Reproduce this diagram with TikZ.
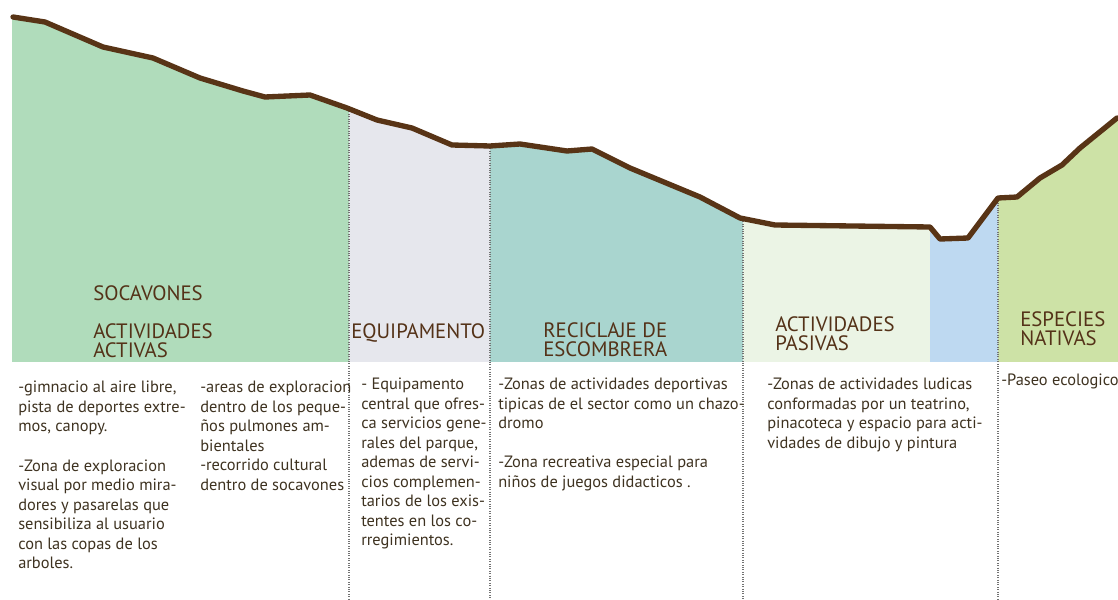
\documentclass[tikz,border=0pt]{standalone}
\usepackage{fontspec}
\setmainfont{PT Sans}
\usepackage{xcolor}
\definecolor{groundbrown}{RGB}{88,52,22}
\definecolor{labelbrown}{RGB}{84,50,24}
\definecolor{textbrown}{RGB}{62,50,32}
\definecolor{socgreen}{RGB}{176,220,187}
\definecolor{equipgray}{RGB}{230,231,237}
\definecolor{recteal}{RGB}{169,213,207}
\definecolor{pasgreen}{RGB}{235,244,229}
\definecolor{waterblue}{RGB}{190,217,241}
\definecolor{natgreen}{RGB}{205,226,166}

% terrain profile (pixel coordinates of the section)
\newcommand{\groundpts}{(13,17) -- (45,22) -- (103,47) -- (153,58) -- (200,78)
  -- (243,91) -- (265,97) -- (310,95) -- (347,108) -- (377,120) -- (412,128)
  -- (452,145) -- (490,146) -- (520,144) -- (567,151) -- (592,149) -- (630,168)
  -- (700,197) -- (740,218) -- (775,225) -- (930,227) -- (940,239) -- (968,238)
  -- (998,198) -- (1017,197) -- (1040,178) -- (1062,165) -- (1080,148) -- (1117,118)}

\begin{document}
\begin{tikzpicture}[
    x=0.75pt, y=-0.75pt,
    every node/.style={inner sep=0pt, anchor=north west},
    zonelabel/.style={font=\fontsize{15.6}{14.6}\selectfont, text=labelbrown, align=left},
    zonetext/.style={font=\fontsize{12.3}{14.6}\selectfont, text=textbrown, align=left},
    divider/.style={black!55, densely dotted, line width=0.8pt},
    ground/.style={groundbrown, line width=4pt, line join=round, line cap=round}
]
\useasboundingbox (0,0) rectangle (1118,600);

% Zones under the terrain
\begin{scope}
\clip \groundpts -- (1118,118) -- (1118,362) -- (12,362) -- (12,20) -- cycle;
\fill[socgreen]  (12,0)  rectangle (349,362);
\fill[equipgray] (349,0) rectangle (490,362);
\fill[recteal]   (490,0) rectangle (743,362);
\fill[pasgreen]  (743,0) rectangle (930,362);
\fill[waterblue] (930,0) rectangle (998,362);
\fill[natgreen]  (998,0) rectangle (1118,362);
\end{scope}

% Dotted limits between zones
\foreach \x/\y in {349/109, 490/146, 743/219, 998/198}
    \draw[divider] (\x,\y) -- (\x,600);

% Terrain line
\draw[ground] \groundpts;

% Zone names
\node[zonelabel] (socavones) at (93,285) {SOCAVONES};
\node[zonelabel] (activas) at (93,323) {ACTIVIDADES\\ACTIVAS};
\node[zonelabel] (equipamento) at (351,323) {EQUIPAMENTO};
\node[zonelabel] (reciclaje) at (543,322) {RECICLAJE DE\\ESCOMBRERA};
\node[zonelabel] (pasivas) at (775,316) {ACTIVIDADES\\PASIVAS};
\node[zonelabel] (nativas) at (1020,311) {ESPECIES\\NATIVAS};

% Descriptions
\node[zonetext] (activastxt) at (18,381) {-gimnacio al aire libre,\\pista de deportes extre-\\mos, canopy.\\[15pt]-Zona de exploracion\\visual por medio mira-\\dores y pasarelas que\\sensibiliza al usuario\\con las copas de los\\arboles.};
\node[zonetext] (socavonestxt) at (200,381) {-areas de exploracion\\dentro de los peque-\\ños pulmones am-\\bientales\\-recorrido cultural\\dentro de socavones};
\node[zonetext] (equipamentotxt) at (361,378) {- Equipamento\\central que ofres-\\ca servicios gene-\\rales del parque,\\ademas de servi-\\cios complemen-\\tarios de los exis-\\tentes en los co-\\rregimientos.};
\node[zonetext] (reciclajetxt) at (498,378) {-Zonas de actividades deportivas\\tipicas de el sector como un chazo-\\dromo\\[14.6pt]-Zona recreativa especial para\\niños de juegos didacticos .};
\node[zonetext] (pasivastxt) at (767,378) {-Zonas de actividades ludicas\\conformadas por un teatrino,\\pinacoteca y espacio para acti-\\vidades de dibujo y pintura};
\node[zonetext] (nativastxt) at (1001,374) {-Paseo ecologico};
\end{tikzpicture}
\end{document}
